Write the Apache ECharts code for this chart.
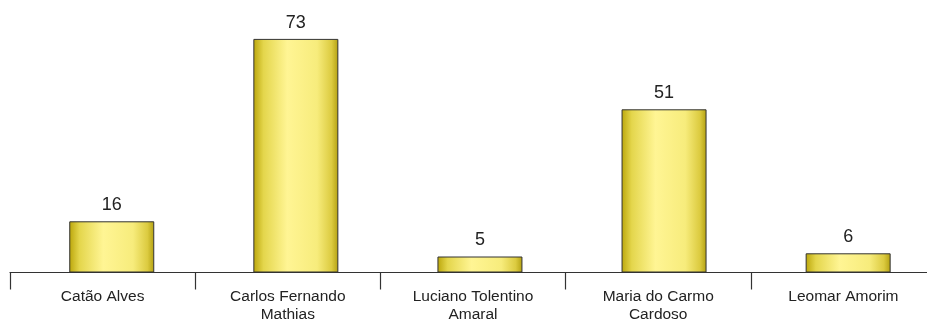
<!DOCTYPE html>
<html>
<head>
<meta charset="utf-8">
<script src="https://cdn.jsdelivr.net/npm/echarts@6/dist/echarts.min.js"></script>
<style>
html, body { margin: 0; padding: 0; background: #fff; }
#chart { width: 927px; height: 322px; }
</style>
</head>
<body>
<div id="chart"></div>
<script>
var categories = ['Catão Alves', 'Carlos Fernando\nMathias', 'Luciano Tolentino\nAmaral', 'Maria do Carmo\nCardoso', 'Leomar Amorim'];
var values = [16, 73, 5, 51, 6];
var yMax = 80;

var chart = echarts.init(document.getElementById('chart'));
var option = {
    animation: false,
    grid: [{
        // axis with ticks and labels
        left: 10,
        right: -9,
        top: 16.5,
        bottom: 49.5,
        containLabel: false,
        outerBoundsMode: 'none'
    }, {
        // bars sit a little right of the label centres in the original
        left: 19.7,
        right: -13.2,
        top: 16.5,
        bottom: 49.5,
        containLabel: false,
        outerBoundsMode: 'none'
    }],
    xAxis: [{
        type: 'category',
        gridIndex: 0,
        data: categories,
        axisLine: { lineStyle: { color: '#333', width: 1.2 } },
        axisTick: { show: true, length: 17, lineStyle: { color: '#333', width: 1.2 } },
        axisLabel: {
            margin: 15,
            fontFamily: 'Liberation Sans, Arial, sans-serif',
            fontSize: 15.5,
            lineHeight: 18,
            color: '#222'
        }
    }, {
        type: 'category',
        gridIndex: 1,
        data: categories,
        show: false
    }],
    yAxis: [{
        type: 'value',
        gridIndex: 0,
        min: 0,
        max: yMax,
        show: false,
        splitLine: { show: false }
    }, {
        type: 'value',
        gridIndex: 1,
        min: 0,
        max: yMax,
        show: false,
        splitLine: { show: false }
    }],
    series: [{
        type: 'bar',
        xAxisIndex: 1,
        yAxisIndex: 1,
        data: values,
        barWidth: 85,
        itemStyle: {
            borderColor: '#333',
            borderWidth: 1,
            color: new echarts.graphic.LinearGradient(0, 0, 1, 0, [
                { offset: 0, color: '#bba60a' },
                { offset: 0.12, color: '#e4d64c' },
                { offset: 0.4, color: '#fff594' },
                { offset: 0.75, color: '#f7ec7c' },
                { offset: 0.92, color: '#dccb40' },
                { offset: 1, color: '#b3a010' }
            ])
        },
        label: {
            show: true,
            position: 'top',
            distance: 7,
            fontFamily: 'Liberation Sans, Arial, sans-serif',
            fontSize: 18,
            color: '#222'
        }
    }]
};
chart.setOption(option);
</script>
</body>
</html>
